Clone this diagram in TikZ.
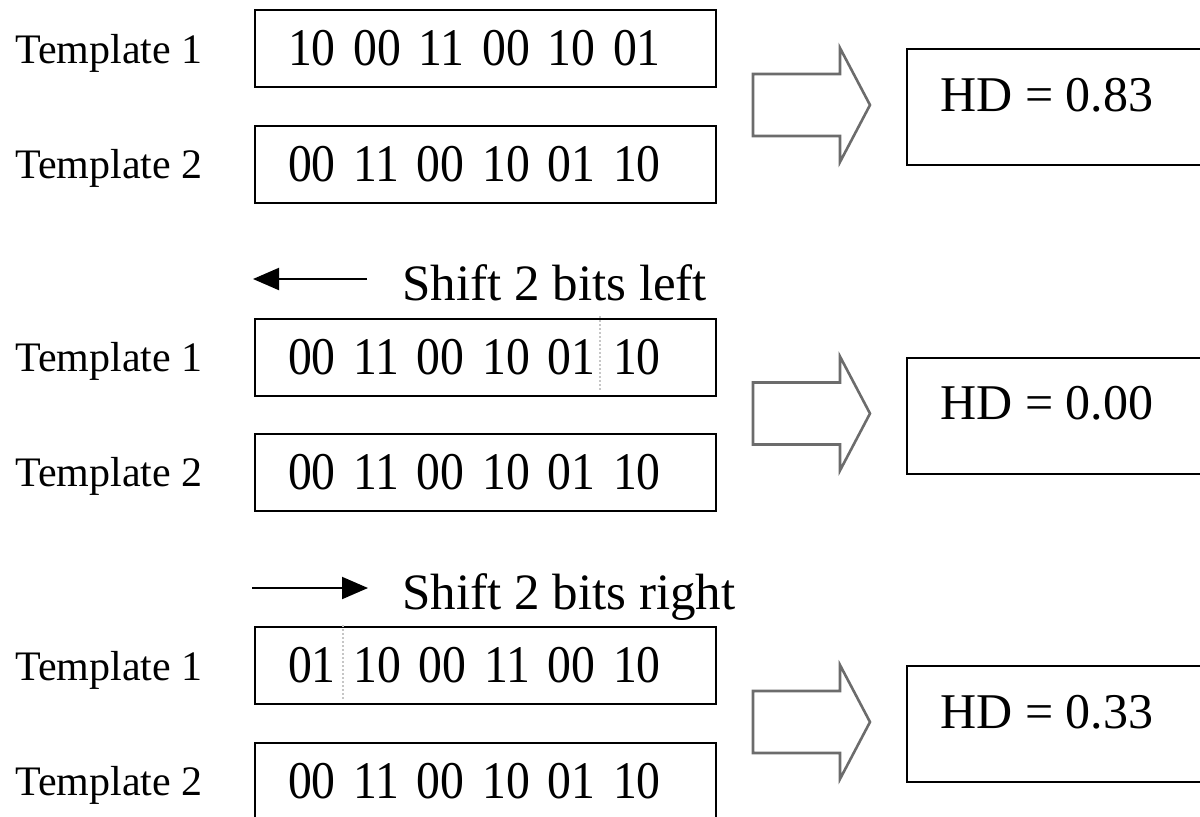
\documentclass[tikz,border=0pt]{standalone}
\usepackage{fontspec}
\setmainfont{Liberation Serif}
\newfontfamily\bitfont{Liberation Serif}[FakeStretch=0.9]
\usetikzlibrary{arrows.meta}
\newcommand\bitsfont{\bitfont\fontsize{26.5}{31}\selectfont}
\tikzset{
	tmpl/.style={draw, line width=1pt, anchor=west, minimum height=38.5pt, text width=197.5pt, inner xsep=16.5pt, inner ysep=0pt, align=left, font=\bitsfont},
	lbl/.style={anchor=base west, inner sep=0pt, font=\fontsize{21}{25}\selectfont},
	hdbox/.style={draw, line width=1pt, anchor=west, minimum width=170pt, minimum height=58pt},
	hdtxt/.style={anchor=base west, inner sep=0pt, font=\fontsize{25}{30}\selectfont},
	fatarrow/.style={draw=gray!85!black, line width=1.3pt, line join=miter},
	shifttxt/.style={anchor=base west, inner sep=0pt, font=\fontsize{25.5}{30}\selectfont},
	sep/.style={draw=gray!45, densely dotted, line width=1pt}
}
\begin{document}
\begin{tikzpicture}[x=0.5pt, y=-0.5pt, >={Triangle[length=13pt, width=11pt]}]
	\useasboundingbox (0,0) rectangle (1200,816);
	\clip (0,0) rectangle (1200,816);
	% three comparisons, one under the other
	\foreach \i / \oy / \bits / \hd in {1/0/10 00 11 00 10 01/0.83, 2/308.5/00 11 00 10 01 10/0.00, 3/617/01 10 00 11 00 10/0.33} {
		\node[tmpl] (ta-\i) at (254, 48.5+\oy) {\bits};
		\node[tmpl] (tb-\i) at (254, 164+\oy) {00 11 00 10 01 10};
		\node[lbl] (la-\i) at (15, 63+\oy) {Template 1};
		\node[lbl] (lb-\i) at (15, 178+\oy) {Template 2};
		\node[hdbox] (hd-\i) at (906, 107+\oy) {};
		\node[hdtxt] (hv-\i) at ([xshift=17pt, yshift=-2pt]hd-\i.west) {HD = \hd};
		\coordinate (ar-\i) at (753, 105+\oy);
		\draw[fatarrow] (ar-\i) ++(0,-31) -- ++(87,0) -- ++(0,-26) -- ++(30,57) -- ++(-30,57) -- ++(0,-26) -- ++(-87,0) -- cycle;
	}
	% shifts
	\coordinate (sl-a) at (367, 279);
	\coordinate (sl-b) at (253, 279);
	\draw[->, line width=1pt] (sl-a) -- (sl-b);
	\node[shifttxt] (sl) at (402, 300) {Shift 2 bits left};
	\coordinate (sr-a) at (252, 588);
	\coordinate (sr-b) at (368, 588);
	\draw[->, line width=1pt] (sr-a) -- (sr-b);
	\node[shifttxt] (sr) at (402, 609) {Shift 2 bits right};
	\draw[sep] (600, 316) -- (600, 392);
	\draw[sep] (343, 625) -- (343, 701);
\end{tikzpicture}
\end{document}
